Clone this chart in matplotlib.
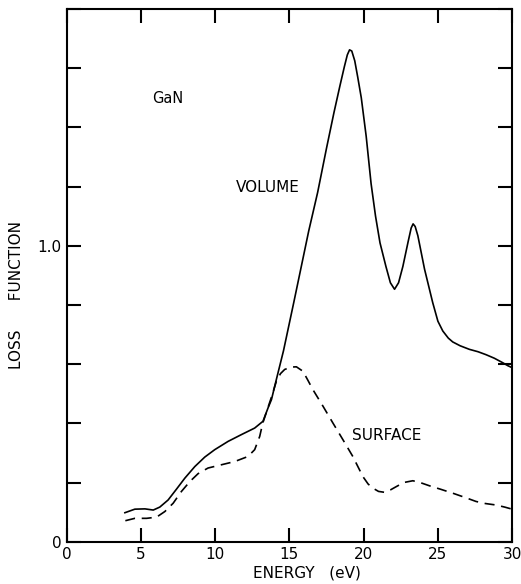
import matplotlib.pyplot as plt

# Loss function of GaN: volume (solid) and surface (dashed)
vol_e = [3.92, 4.59, 5.27, 5.83, 6.27, 6.83, 7.4, 7.96, 8.63, 9.3, 9.97, 10.87,
         11.77, 12.66, 13.22, 13.56, 13.79, 14.12, 14.6, 15.3, 15.8, 16.3,
         16.9, 17.5, 18.0, 18.4, 18.7, 18.9, 19.05, 19.2, 19.4, 19.6, 19.84,
         20.17, 20.5, 20.8, 21.1, 21.5, 21.8, 22.08, 22.35, 22.64, 23.0, 23.2,
         23.33, 23.47, 23.65, 24.1, 24.65, 25.0, 25.33, 25.7, 26.0, 26.5, 27.12,
         27.7, 28.24, 28.8, 29.36, 29.7, 30.0]
vol_loss = [0.098, 0.11, 0.111, 0.107, 0.117, 0.141, 0.178, 0.215, 0.254, 0.286,
            0.311, 0.339, 0.362, 0.384, 0.407, 0.452, 0.48, 0.548, 0.645, 0.81,
            0.93, 1.05, 1.18, 1.33, 1.45, 1.54, 1.605, 1.645, 1.662, 1.658, 1.625,
            1.57, 1.50, 1.37, 1.21, 1.10, 1.01, 0.93, 0.875, 0.853, 0.875, 0.93,
            1.015, 1.06, 1.074, 1.065, 1.034, 0.921, 0.808, 0.745, 0.712, 0.688,
            0.675, 0.662, 0.65, 0.642, 0.632, 0.62, 0.605, 0.595, 0.588]

surf_e = [3.95, 4.59, 5.38, 6.05, 6.61, 7.17, 7.73, 8.29, 8.85, 9.52, 10.42,
          11.32, 12.21, 12.66, 13.0, 13.2, 13.5, 13.8, 14.12, 14.4, 14.68, 15.1,
          15.47, 15.91, 16.25, 16.58, 17.26, 17.93, 18.6, 19.27, 19.95, 20.3,
          20.62, 21.0, 21.4, 21.8, 22.19, 22.7, 23.31, 23.8, 24.43, 25.2, 26.0,
          26.8, 27.57, 28.2, 28.92, 29.5, 30.0]
surf_loss = [0.071, 0.079, 0.079, 0.083, 0.102, 0.13, 0.17, 0.203, 0.23, 0.249,
             0.26, 0.271, 0.288, 0.311, 0.356, 0.40, 0.445, 0.49, 0.542, 0.568,
             0.582, 0.59, 0.591, 0.576, 0.545, 0.514, 0.458, 0.401, 0.345, 0.288,
             0.22, 0.195, 0.181, 0.17, 0.167, 0.175, 0.186, 0.2, 0.206, 0.2,
             0.189, 0.177, 0.164, 0.15, 0.136, 0.129, 0.124, 0.117, 0.11]

x_ticks = [0, 5, 10, 15, 20, 25, 30]
y_ticks = [0, 0.2, 0.4, 0.6, 0.8, 1.0, 1.2, 1.4, 1.6, 1.8]
y_tick_labels = ['0', '', '', '', '', '1.0', '', '', '', '']

plt.rcParams['font.family'] = 'DejaVu Sans'

fig = plt.figure(figsize=(5.21, 5.84), dpi=100)
ax = fig.add_axes([0.128, 0.0724, 0.855, 0.9122])

ax.plot(vol_e, vol_loss, color='black', linewidth=1.2)
ax.plot(surf_e, surf_loss, color='black', linewidth=1.2, linestyle=(0, (6, 4)))

ax.set_xlim(0, 30)
ax.set_ylim(0, 1.8)
ax.set_xticks(x_ticks)
ax.set_xticklabels([str(t) for t in x_ticks], fontsize=11)
ax.set_yticks(y_ticks)
ax.set_yticklabels(y_tick_labels, fontsize=11)
ax.tick_params(direction='in', length=10, width=1.5, top=True, right=True, pad=4)

for s in ax.spines.values():
    s.set_linewidth(1.5)

ax.set_xlabel('ENERGY   (eV)', fontsize=11)
ax.xaxis.set_label_coords(0.539, -0.045)
ax.set_ylabel('LOSS      FUNCTION', fontsize=11)
ax.yaxis.set_label_coords(-0.095, 0.463)

ax.text(6.78, 1.497, 'GaN', fontsize=10.5, ha='center', va='center')
ax.text(13.55, 1.198, 'VOLUME', fontsize=11, ha='center', va='center')
ax.text(21.57, 0.358, 'SURFACE', fontsize=11, ha='center', va='center')

fig.savefig('out.png', dpi=100)
